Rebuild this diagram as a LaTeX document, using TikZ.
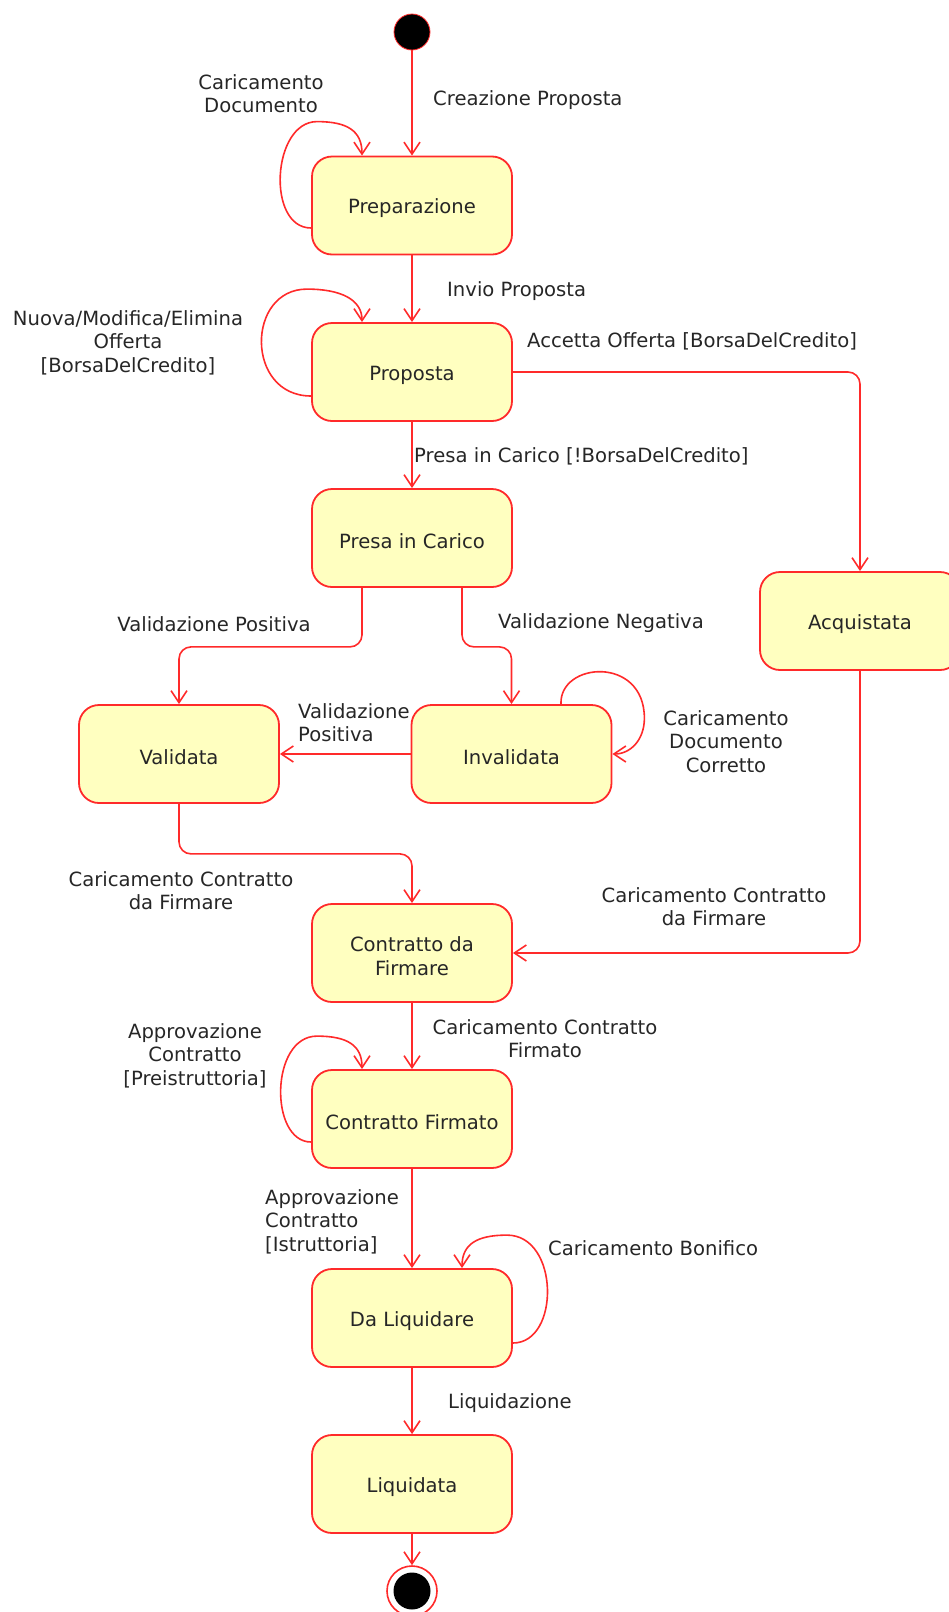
\documentclass[tikz,border=0pt]{standalone}
\usepackage{fontspec}
\setmainfont{DejaVu Sans}
\usetikzlibrary{arrows.meta,calc}
\definecolor{edgered}{HTML}{FF2A2A}
\definecolor{statefill}{HTML}{FFFFC0}
\definecolor{labelgray}{HTML}{262626}

\begin{document}
\begin{tikzpicture}[x=1pt,y=-1pt,
  every node/.style={font=\fontsize{19.6}{23.5}\selectfont, text=labelgray},
  state/.style={draw=edgered, fill=statefill, line width=1.8pt, rounded corners=20pt,
    minimum width=200pt, minimum height=98pt, inner sep=0pt,
    label={[inner sep=0pt, align=center, yshift=-3pt, text=labelgray]center:#1}},
  trans/.style={draw=edgered, line width=1.6pt, -{Straight Barb[length=12pt,width=16pt]}},
  lbl/.style={inner sep=0pt, align=center, yshift=-2.5pt},
  lbll/.style={inner sep=0pt, align=left, anchor=west, yshift=-2.5pt},
]
\useasboundingbox (0,0) rectangle (949,1612);

% states
\node[circle, fill=black, draw=edgered, line width=0.8pt, minimum size=36pt, inner sep=0pt] (start) at (412,32) {};
\node[state={Preparazione}]      (prep)  at (412,205.5) {};
\node[state={Proposta}]          (prop)  at (412,372)   {};
\node[state={Presa in Carico}]   (presa) at (412,538)   {};
\node[state={Acquistata}]        (acq)   at (860,621)   {};
\node[state={Validata}]          (val)   at (179,754)   {};
\node[state={Invalidata}]        (inval) at (511.5,754) {};
\node[state={Contratto da\\Firmare}] (cdf) at (412,953) {};
\node[state={Contratto Firmato}] (cf)    at (412,1119)  {};
\node[state={Da Liquidare}]      (dliq)  at (412,1318)  {};
\node[state={Liquidata}]         (liq)   at (412,1484)  {};
\node[circle, draw=edgered, fill=white, line width=1.6pt, minimum size=50pt, inner sep=0pt] (final) at (412,1591) {};
\node[circle, fill=black, minimum size=37pt, inner sep=0pt] (finaldot) at (final) {};

% transitions
\draw[trans] (start) -- (prep);
\draw[trans] ($(prep.west)+(0,22.5)$)
  .. controls ($(prep.west)+(-45,22.5)$) and ($(prep.north)+(-140,-34)$) .. ($(prep.north)+(-95,-34)$)
  .. controls ($(prep.north)+(-65,-34)$) and ($(prep.north)+(-50,-25)$) .. ($(prep.north)+(-50,0)$);
\draw[trans] (prep) -- (prop);
\draw[trans] ($(prop.west)+(0,24)$)
  .. controls ($(prop.west)+(-66,24)$) and ($(prop.north)+(-166,-33)$) .. ($(prop.north)+(-105,-33)$)
  .. controls ($(prop.north)+(-72,-33)$) and ($(prop.north)+(-50,-23)$) .. ($(prop.north)+(-50,0)$);
\draw[trans, rounded corners=12pt] (prop.east) -| (acq.north);
\draw[trans] (prop) -- (presa);
\draw[trans, rounded corners=12pt] ($(presa.south)+(-50,0)$) -- ++(0,59) -| (val.north);
\draw[trans, rounded corners=12pt] ($(presa.south)+(50,0)$) -- ++(0,59) -| (inval.north);
\draw[trans] ($(inval.north)+(49.5,0)$)
  .. controls ($(inval.north)+(47.5,-42)$) and ($(inval.north)+(132.5,-49)$) .. ($(inval.east)+(32,-36)$)
  .. controls ($(inval.east)+(32,-14)$) and ($(inval.east)+(18,0)$) .. (inval.east);
\draw[trans] (inval) -- (val);
\draw[trans, rounded corners=12pt] (val.south) -- ++(0,50) -| (cdf.north);
\draw[trans, rounded corners=12pt] (acq.south) |- (cdf.east);
\draw[trans] (cdf) -- (cf);
\draw[trans] ($(cf.west)+(0,23)$)
  .. controls ($(cf.west)+(-42,23)$) and ($(cf.north)+(-142,-33)$) .. ($(cf.north)+(-95,-33)$)
  .. controls ($(cf.north)+(-65,-33)$) and ($(cf.north)+(-50,-24)$) .. ($(cf.north)+(-50,0)$);
\draw[trans] (cf) -- (dliq);
\draw[trans] ($(dliq.east)+(0,25)$)
  .. controls ($(dliq.east)+(47.5,25)$) and ($(dliq.north)+(147.5,-33)$) .. ($(dliq.north)+(95,-33)$)
  .. controls ($(dliq.north)+(65,-33)$) and ($(dliq.north)+(50,-24)$) .. ($(dliq.north)+(50,0)$);
\draw[trans] (dliq) -- (liq);
\draw[trans] (liq) -- (final);

% transition labels
\node[lbll] (l1)  at (433,98)   {Creazione Proposta};
\node[lbl]  (l2)  at (261,91)   {Caricamento\\Documento};
\node[lbll] (l3)  at (447,289)  {Invio Proposta};
\node[lbl]  (l4)  at (128,340)  {Nuova/Modifica/Elimina\\Offerta\\{[BorsaDelCredito]}};
\node[lbll] (l5)  at (527,339)  {Accetta Offerta [BorsaDelCredito]};
\node[lbll] (l6)  at (414,454)  {Presa in Carico [!BorsaDelCredito]};
\node[lbl]  (l7)  at (214,622)  {Validazione Positiva};
\node[lbll] (l8)  at (498,621)  {Validazione Negativa};
\node[lbl]  (l9)  at (726,739)  {Caricamento\\Documento\\Corretto};
\node[lbll] (l10) at (298,720)  {Validazione\\Positiva};
\node[lbl]  (l11) at (181,888)  {Caricamento Contratto\\da Firmare};
\node[lbl]  (l12) at (714,904)  {Caricamento Contratto\\da Firmare};
\node[lbl]  (l13) at (545,1036) {Caricamento Contratto\\Firmato};
\node[lbl]  (l14) at (195,1053) {Approvazione\\Contratto\\{[Preistruttoria]}};
\node[lbll] (l15) at (265,1219) {Approvazione\\Contratto\\{[Istruttoria]}};
\node[lbll] (l16) at (548,1246) {Caricamento Bonifico};
\node[lbll] (l17) at (448,1401) {Liquidazione};
\end{tikzpicture}
\end{document}
